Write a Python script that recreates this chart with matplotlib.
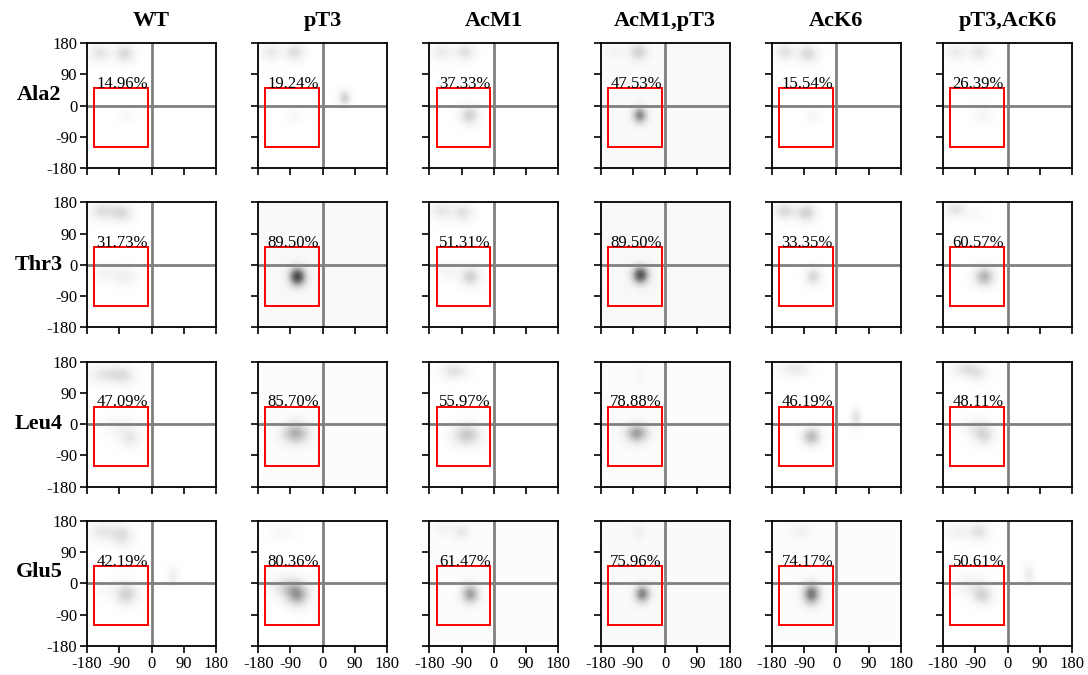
import numpy as np
import matplotlib
matplotlib.use("Agg")
import matplotlib.pyplot as plt
from matplotlib.patches import Rectangle

plt.rcParams['font.family'] = ['Liberation Serif', 'DejaVu Serif']
plt.rcParams['axes.unicode_minus'] = False

# Peptide variants (columns) and residues (rows)
variants = ["WT", "pT3", "AcM1", "AcM1,pT3", "AcK6", "pT3,AcK6"]
residues = ["Ala2", "Thr3", "Leu4", "Glu5"]

# Population inside the helical/PPII box, percent
box_pct = [
    [14.96, 19.24, 37.33, 47.53, 15.54, 26.39],
    [31.73, 89.50, 51.31, 89.50, 33.35, 60.57],
    [47.09, 85.70, 55.97, 78.88, 46.19, 48.11],
    [42.19, 80.36, 61.47, 75.96, 74.17, 50.61],
]

# Baseline density level of each panel
floor_level = [
    [0.00, 0.00, 0.00, 0.04, 0.00, 0.00],
    [0.00, 0.05, 0.00, 0.05, 0.00, 0.00],
    [0.00, 0.02, 0.00, 0.025, 0.00, 0.00],
    [0.00, 0.00, 0.02, 0.04, 0.02, 0.00],
]

# Density populations per panel: (phi, psi, width_phi, width_psi, peak)
populations = {
    ("Ala2", "WT"):       [(-145, 152, 22, 19, 0.18), (-75, 150, 20, 19, 0.24), (-70, -30, 16, 16, 0.06)],
    ("Ala2", "pT3"):      [(-145, 155, 20, 18, 0.16), (-78, 155, 20, 18, 0.22), (-80, -30, 16, 16, 0.07), (62, 22, 12, 16, 0.28)],
    ("Ala2", "AcM1"):     [(-145, 155, 20, 18, 0.15), (-80, 155, 20, 18, 0.20), (-68, -28, 19, 20, 0.28)],
    ("Ala2", "AcM1,pT3"): [(-140, 155, 20, 12, 0.06), (-75, 155, 18, 18, 0.24), (-72, -28, 15, 18, 0.50)],
    ("Ala2", "AcK6"):     [(-145, 155, 20, 18, 0.20), (-80, 150, 20, 19, 0.24), (-65, -30, 16, 16, 0.07)],
    ("Ala2", "pT3,AcK6"): [(-145, 155, 20, 18, 0.15), (-80, 155, 20, 18, 0.18), (-70, -25, 20, 20, 0.08)],

    ("Thr3", "WT"):       [(-140, 155, 23, 19, 0.20), (-85, 150, 23, 19, 0.24), (-130, -25, 23, 19, 0.09), (-75, -35, 23, 19, 0.12)],
    ("Thr3", "pT3"):      [(-70, -35, 17, 20, 0.72)],
    ("Thr3", "AcM1"):     [(-145, 155, 23, 19, 0.17), (-85, 150, 20, 19, 0.20), (-130, -20, 23, 19, 0.08), (-65, -35, 20, 20, 0.28)],
    ("Thr3", "AcM1,pT3"): [(-70, -30, 17, 19, 0.68)],
    ("Thr3", "AcK6"):     [(-145, 155, 20, 18, 0.24), (-85, 150, 20, 19, 0.28), (-65, -35, 16, 18, 0.25)],
    ("Thr3", "pT3,AcK6"): [(-145, 160, 20, 16, 0.20), (-90, 145, 20, 16, 0.05), (-65, -35, 20, 20, 0.40)],

    ("Leu4", "WT"):       [(-120, 145, 40, 19, 0.20), (-75, 140, 20, 19, 0.12), (-90, -5, 29, 20, 0.09), (-60, -40, 20, 20, 0.16)],
    ("Leu4", "pT3"):      [(-75, -25, 27, 23, 0.40)],
    ("Leu4", "AcM1"):     [(-110, 155, 27, 17, 0.20), (-75, -30, 28, 23, 0.32)],
    ("Leu4", "AcM1,pT3"): [(-75, 140, 11, 20, 0.05), (-80, -25, 23, 20, 0.45)],
    ("Leu4", "AcK6"):     [(-115, 160, 28, 16, 0.16), (-70, -35, 19, 19, 0.38), (55, 20, 11, 20, 0.20)],
    ("Leu4", "pT3,AcK6"): [(-115, 160, 28, 16, 0.20), (-80, 145, 20, 16, 0.12), (-85, -10, 28, 20, 0.15), (-65, -35, 20, 20, 0.20)],

    ("Glu5", "WT"):       [(-140, 150, 23, 19, 0.16), (-85, 140, 23, 23, 0.22), (-70, -30, 23, 23, 0.28), (-130, -20, 23, 19, 0.05), (60, 20, 12, 20, 0.12)],
    ("Glu5", "pT3"):      [(-110, 145, 28, 16, 0.06), (-95, -10, 33, 23, 0.24), (-70, -35, 23, 23, 0.40)],
    ("Glu5", "AcM1"):     [(-140, 160, 20, 16, 0.08), (-90, 150, 16, 16, 0.15), (-65, -30, 18, 21, 0.45)],
    ("Glu5", "AcM1,pT3"): [(-75, 150, 12, 16, 0.08), (-65, -30, 16, 19, 0.52)],
    ("Glu5", "AcK6"):     [(-100, 150, 20, 16, 0.09), (-70, -30, 18, 23, 0.58)],
    ("Glu5", "pT3,AcK6"): [(-140, 150, 23, 19, 0.12), (-80, 150, 20, 19, 0.20), (-100, -5, 33, 23, 0.12), (-70, -35, 20, 20, 0.24), (60, 25, 11, 20, 0.15)],
}

# Box around the right-handed helix / bridge region
box_phi = (-160, -10)
box_psi = (-120, 50)

ticks = [-180, -90, 0, 90, 180]

W, H = 1088, 675
fig = plt.figure(figsize=(W / 100, H / 100), dpi=100)

ax_left0, ax_w = 87, 129
col_step = 171.2
ax_top0, ax_h = 43, 125
row_step = 159.3

grid = np.linspace(-180, 180, 241)
PHI, PSI = np.meshgrid(grid, grid)

label_y = [95, 265, 424, 572]

for r, res in enumerate(residues):
    for c, var in enumerate(variants):
        left = ax_left0 + c * col_step
        top = ax_top0 + r * row_step
        ax = fig.add_axes([left / W, 1 - (top + ax_h) / H, ax_w / W, ax_h / H])

        dens = np.full_like(PHI, floor_level[r][c])
        for phi0, psi0, sphi, spsi, amp in populations[(res, var)]:
            dens += amp * np.exp(-0.5 * (((PHI - phi0) / sphi) ** 2 + ((PSI - psi0) / spsi) ** 2))
        ax.imshow(dens, extent=(-180, 180, -180, 180), origin="lower", cmap="Greys",
                  vmin=0, vmax=1, interpolation="bilinear", aspect="auto", zorder=0)

        ax.axhline(0, color="#808080", lw=2, zorder=2)
        ax.axvline(0, color="#808080", lw=2, zorder=2)

        ax.add_patch(Rectangle((box_phi[0], box_psi[0]), box_phi[1] - box_phi[0], box_psi[1] - box_psi[0],
                               fill=False, edgecolor="#ff0000", lw=1.4, zorder=3))
        ax.text(-153, 51, f"{box_pct[r][c]:.2f}%", fontsize=12, ha="left", va="baseline", zorder=4)

        ax.set_xlim(-180, 180)
        ax.set_ylim(-180, 180)
        ax.set_xticks(ticks)
        ax.set_yticks(ticks)
        ax.tick_params(direction="out", length=5, width=1.2, labelsize=12, pad=2)
        if c != 0:
            ax.set_yticklabels([])
        if r != len(residues) - 1:
            ax.set_xticklabels([])
        for sp in ax.spines.values():
            sp.set_linewidth(1.3)

        if r == 0:
            ax.set_title(var, fontsize=16, fontweight="bold", pad=12)

    fig.text(39 / W, 1 - label_y[r] / H, res, fontsize=16, fontweight="bold", ha="center", va="center")

fig.savefig("out.png", dpi=100)
